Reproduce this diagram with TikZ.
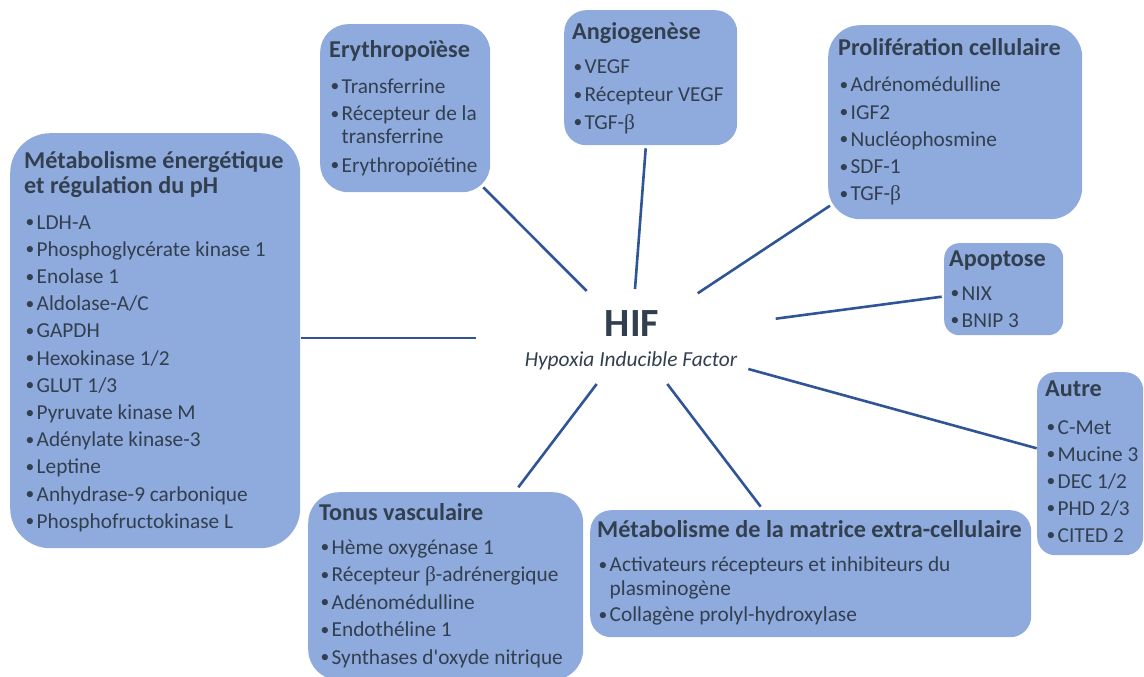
\documentclass[tikz,border=0pt]{standalone}
\usepackage{fontspec}
\setmainfont{Carlito}
\newfontfamily\grk{Liberation Serif}
\definecolor{boxfill}{HTML}{8FAADC}
\definecolor{inkdark}{HTML}{323F4F}
\definecolor{linkblue}{HTML}{2F5597}
\newcommand\bt{{\grk β}}
\newcommand\dotmark{\makebox[11.5pt][l]{\hspace{0.5pt}\raisebox{1.4pt}{\fontsize{17.5}{17.5}\selectfont •}}}

\tikzset{
  panel/.style={fill=boxfill, draw=none, anchor=north west, inner sep=0pt},
  boxtitle/.style={font=\bfseries\fontsize{24.2}{28}\selectfont, text=inkdark, anchor=base west, inner sep=0pt},
  boxline/.style={font=\fontsize{21.3}{25}\selectfont, text=inkdark, anchor=base west, inner sep=0pt},
  link/.style={draw=linkblue, line width=2.6pt},
}
% name, x, y (top-left), width, height, corner radius
\newcommand\panelbox[6]{\node[panel, minimum width=#4pt, minimum height=#5pt, rounded corners=#6pt] (#1) at (#2,#3) {};}
\newcommand\boxhead[4]{\node[boxtitle] (#1) at (#2,#3) {#4};}
\newcommand\boxitem[4]{\node[boxline] (#1) at (#2,#3) {\dotmark#4};}
\newcommand\boxcont[4]{\node[boxline] (#1) at (#2,#3) {\hspace*{11.5pt}#4};}

\begin{document}
\begin{tikzpicture}[x=1pt, y=-1pt]
\useasboundingbox (0,0) rectangle (1144,677);

% panels
\panelbox{met}{10}{133}{290}{415}{40}
\panelbox{ery}{320}{24}{170}{168}{28}
\panelbox{ang}{564}{10}{173}{135}{22}
\panelbox{pro}{828}{25}{254}{194}{32}
\panelbox{apo}{944}{243}{119}{92}{15}
\panelbox{aut}{1037}{372}{106}{183}{18}
\panelbox{ton}{308}{492}{275}{188}{31}
\panelbox{mat}{590}{510}{441}{127}{21}

% centre
\node[font=\bfseries\fontsize{40}{40}\selectfont, text=inkdark, anchor=base, inner sep=0pt] (hif) at (632,336.7) {HIF};
\node[font=\itshape\fontsize{21.4}{24}\selectfont, text=inkdark, anchor=base, inner sep=0pt] (hifsub) at (631,366) {Hypoxia Inducible Factor};

% energy metabolism
\boxhead{met-t1}{24}{168}{Métabolisme énergétique}
\boxhead{met-t2}{24}{193}{et régulation du pH}
\boxitem{met-1}{25}{229}{LDH-A}
\boxitem{met-2}{25}{256.2}{Phosphoglycérate kinase 1}
\boxitem{met-3}{25}{283.4}{Enolase 1}
\boxitem{met-4}{25}{310.6}{Aldolase-A/C}
\boxitem{met-5}{25}{337.8}{GAPDH}
\boxitem{met-6}{25}{365}{Hexokinase 1/2}
\boxitem{met-7}{25}{392.2}{GLUT 1/3}
\boxitem{met-8}{25}{419.4}{Pyruvate kinase M}
\boxitem{met-9}{25}{446.6}{Adénylate kinase-3}
\boxitem{met-10}{25}{473.8}{Leptine}
\boxitem{met-11}{25}{501}{Anhydrase-9 carbonique}
\boxitem{met-12}{25}{528.2}{Phosphofructokinase L}

% erythropoiesis
\boxhead{ery-t}{329}{58}{Erythropoïèse}
\boxitem{ery-1}{330}{93}{Transferrine}
\boxitem{ery-2}{330}{120.5}{Récepteur de la}
\boxcont{ery-2b}{330}{143}{transferrine}
\boxitem{ery-3}{330}{172}{Erythropoïétine}

% angiogenesis
\boxhead{ang-t}{572}{40}{Angiogenèse}
\boxitem{ang-1}{573}{74}{VEGF}
\boxitem{ang-2}{573}{101.5}{Récepteur VEGF}
\boxitem{ang-3}{573}{129}{TGF-\bt}

% proliferation
\boxhead{pro-t}{838}{56}{Prolifération cellulaire}
\boxitem{pro-1}{839}{92}{Adrénomédulline}
\boxitem{pro-2}{839}{119}{IGF2}
\boxitem{pro-3}{839}{146.3}{Nucléophosmine}
\boxitem{pro-4}{839}{173.5}{SDF-1}
\boxitem{pro-5}{839}{200.5}{TGF-\bt}

% apoptosis
\boxhead{apo-t}{949}{266}{Apoptose}
\boxitem{apo-1}{950}{300}{NIX}
\boxitem{apo-2}{950}{327}{BNIP 3}

% other
\boxhead{aut-t}{1045}{396}{Autre}
\boxitem{aut-1}{1046}{434}{C-Met}
\boxitem{aut-2}{1046}{461}{Mucine 3}
\boxitem{aut-3}{1046}{488}{DEC 1/2}
\boxitem{aut-4}{1046}{515}{PHD 2/3}
\boxitem{aut-5}{1046}{542}{CITED 2}

% vascular tone
\boxhead{ton-t}{319}{520}{Tonus vasculaire}
\boxitem{ton-1}{320}{554}{Hème oxygénase 1}
\boxitem{ton-2}{320}{581.5}{Récepteur \bt-adrénergique}
\boxitem{ton-3}{320}{609}{Adénomédulline}
\boxitem{ton-4}{320}{636.5}{Endothéline 1}
\boxitem{ton-5}{320}{664}{Synthases d\textquotesingle oxyde nitrique}

% extracellular matrix
\boxhead{mat-t}{597}{537}{Métabolisme de la matrice extra-cellulaire}
\boxitem{mat-1}{598}{571.7}{Activateurs récepteurs et inhibiteurs du}
\boxcont{mat-1b}{598}{595}{plasminogène}
\boxitem{mat-2}{598}{621.7}{Collagène prolyl-hydroxylase}

% connector end points
\coordinate (met-c) at (301,338);     \coordinate (hif-w)  at (476,338);
\coordinate (ery-c) at (483.3,187.3); \coordinate (hif-nw) at (586.7,291);
\coordinate (ang-c) at (645.7,148.3); \coordinate (hif-n)  at (635,289);
\coordinate (pro-c) at (830,205.7);   \coordinate (hif-ne) at (697.7,293.3);
\coordinate (apo-c) at (941.7,296.7); \coordinate (hif-e)  at (775.7,318.7);
\coordinate (aut-c) at (1036.7,448.3);\coordinate (hif-se) at (748.3,369);
\coordinate (mat-c) at (760.7,506.7); \coordinate (hif-s)  at (667.3,384);
\coordinate (ton-c) at (518.3,487.3); \coordinate (hif-sw) at (596.7,384);

% connectors
\draw[link] (met-c) -- (hif-w);
\draw[link] (ery-c) -- (hif-nw);
\draw[link] (ang-c) -- (hif-n);
\draw[link] (pro-c) -- (hif-ne);
\draw[link] (apo-c) -- (hif-e);
\draw[link] (aut-c) -- (hif-se);
\draw[link] (mat-c) -- (hif-s);
\draw[link] (ton-c) -- (hif-sw);
\end{tikzpicture}
\end{document}
